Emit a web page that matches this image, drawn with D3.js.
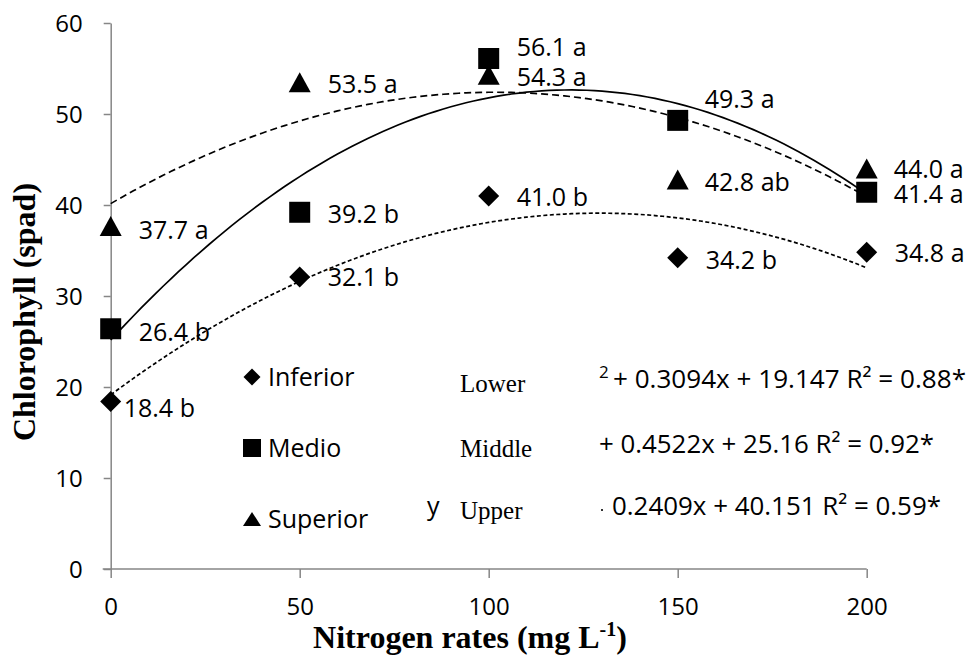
<!DOCTYPE html>
<html><head><meta charset="utf-8">
<script src="https://cdn.jsdelivr.net/npm/d3@7"></script>
<style>body{margin:0;background:#fff}</style>
</head><body><svg id="c" width="971" height="657"></svg>
<script>
// ---- data ----
const rates = [0, 50, 100, 150, 200];
const seriesNames = ["Inferior", "Medio", "Superior"];
const inferior = [18.4, 32.1, 41.0, 34.2, 34.8];
const medio = [26.4, 39.2, 56.1, 49.3, 41.4];
const superior = [37.7, 53.5, 54.3, 42.8, 44.0];
const inferiorLetters = ["b", "b", "b", "b", "a"];
const medioLetters = ["b", "b", "a", "a", "a"];
const superiorLetters = ["a", "a", "a", "ab", "a"];
const eqNames = ["Lower", "Middle", "Upper"];
const eqFragments = ["+ 0.3094x + 19.147 R² = 0.88*", "+ 0.4522x + 25.16 R² = 0.92*", "0.2409x + 40.151 R² = 0.59*"];
const yTicks = [0, 10, 20, 30, 40, 50, 60];
const xTicks = [0, 50, 100, 150, 200];
const xTitle = "Nitrogen rates (mg L";
const yTitle = "Chlorophyll (spad)";

// ---- layout (not data) ----
const labelOffsets = [
  [[13, 6], [28, 0], [28, 1], [28, 2], [28, 1]],
  [[28, 3], [28, 2], [28, -11], [27, -21], [27, 2]],
  [[28, 4], [28, 2], [28, 2], [27, 2], [27, 0]]
];
const SANS = "'Open Sans', sans-serif";
const SERIF = "'Liberation Serif', 'Times New Roman', serif";

const svg = d3.select("#c");
const x = d3.scaleLinear().domain([0, 200]).range([110.7, 866.7]);
const y = d3.scaleLinear().domain([0, 60]).range([569, 23]);

// marker paths
const shapes = {
  diamond: h => `M0,${-h}L${h},0L0,${h}L${-h},0Z`,
  square: s => `M${-s/2},${-s/2}h${s}v${s}h${-s}Z`,
  triangle: (w, hh) => `M0,${-hh/2}L${w/2},${hh/2}L${-w/2},${hh/2}Z`
};
const markerFor = [
  () => shapes.diamond(10.5),
  () => shapes.square(21),
  () => shapes.triangle(22, 20)
];
const legendMarker = [
  () => shapes.diamond(8.5),
  () => shapes.square(18),
  () => shapes.triangle(18, 14)
];

// least squares quadratic fit
function fitQuad(xs, ys) {
  const n = xs.length;
  let S = [0,0,0,0,0], T = [0,0,0];
  for (let i = 0; i < n; i++) {
    for (let k = 0; k <= 4; k++) S[k] += Math.pow(xs[i], k);
    for (let k = 0; k <= 2; k++) T[k] += ys[i] * Math.pow(xs[i], k);
  }
  const A = [[S[0], S[1], S[2], T[0]], [S[1], S[2], S[3], T[1]], [S[2], S[3], S[4], T[2]]];
  for (let i = 0; i < 3; i++) {
    for (let j = i + 1; j < 3; j++) {
      const f = A[j][i] / A[i][i];
      for (let k = i; k < 4; k++) A[j][k] -= f * A[i][k];
    }
  }
  const c = [0,0,0];
  for (let i = 2; i >= 0; i--) {
    let s = A[i][3];
    for (let k = i + 1; k < 3; k++) s -= A[i][k] * c[k];
    c[i] = s / A[i][i];
  }
  return c; // c0 + c1 x + c2 x^2
}

// axes
const yAxis = svg.append("g").attr("transform", `translate(${x(0)},0)`)
  .call(d3.axisLeft(y).tickValues(yTicks).tickSize(7).tickSizeOuter(0).tickPadding(21));
const xAxis = svg.append("g").attr("transform", `translate(0,${y(0)})`)
  .call(d3.axisBottom(x).tickValues(xTicks).tickSize(9).tickSizeOuter(0));
xAxis.select(".domain").attr("d", `M${x(0) - 8},0H${x(200)}`);
[yAxis, xAxis].forEach(g => {
  g.selectAll(".domain, .tick line").attr("stroke", "#868686").attr("stroke-width", 1.5);
  g.selectAll("text").attr("fill", "#000").style("font-family", SANS).style("font-size", "24px");
});
yAxis.selectAll("text").attr("dy", "0.36em");
xAxis.selectAll("text").attr("dy", null).attr("y", 46);

// titles
svg.append("text").attr("x", 470).attr("y", 648).attr("text-anchor", "middle")
  .style("font-family", SERIF).style("font-weight", "bold").style("font-size", "32px")
  .text(xTitle)
  .append("tspan").attr("dy", -12).style("font-size", "20px").text("-1")
  .select(function() { return this.parentNode; })
  .append("tspan").attr("dy", 12).style("font-size", "32px").text(")");
svg.append("text").attr("transform", `translate(35,312) rotate(-90)`).attr("text-anchor", "middle")
  .style("font-family", SERIF).style("font-weight", "bold").style("font-size", "32px")
  .text(yTitle);

const allSeries = [
  { vals: inferior, letters: inferiorLetters, dash: "4,2.5" },
  { vals: medio, letters: medioLetters, dash: null },
  { vals: superior, letters: superiorLetters, dash: "7,4" }
];

// data labels
allSeries.forEach((s, si) => {
  svg.append("g").selectAll("text").data(s.vals).join("text")
    .attr("x", (d, i) => x(rates[i]) + labelOffsets[si][i][0])
    .attr("y", (d, i) => y(d) + labelOffsets[si][i][1] + 0.36 * 25)
    .style("font-family", SANS).style("font-size", "25px").attr("fill", "#000")
    .text((d, i) => d.toFixed(1) + " " + s.letters[i]);
});

// trend lines
allSeries.forEach((s) => {
  const c = fitQuad(rates, s.vals);
  const pts = d3.range(0, 200.001, 2).map(v => [v, c[0] + c[1] * v + c[2] * v * v]);
  svg.append("path").datum(pts)
    .attr("d", d3.line().x(d => x(d[0])).y(d => y(d[1])))
    .attr("fill", "none").attr("stroke", "#000").attr("stroke-width", 1.7)
    .attr("stroke-dasharray", s.dash);
});

// markers
allSeries.forEach((s, si) => {
  svg.append("g").selectAll("path").data(s.vals).join("path")
    .attr("transform", (d, i) => `translate(${x(rates[i])},${y(d)})`)
    .attr("d", markerFor[si]()).attr("fill", "#000");
});

// legend
const legendY = [377, 448, 519];
seriesNames.forEach((n, i) => {
  svg.append("path").attr("transform", `translate(252,${legendY[i]})`)
    .attr("d", legendMarker[i]()).attr("fill", "#000");
  svg.append("text").attr("x", 268).attr("y", legendY[i] + 9)
    .style("font-family", SANS).style("font-size", "25px").text(n);
});

// equation area
const eqBase = [388, 453, 515];
const eqX = [613, 599, 612];
const eqW = [353, 335, 329];
eqNames.forEach((n, i) => {
  svg.append("text").attr("x", 460).attr("y", eqBase[i] + 4)
    .style("font-family", SERIF).style("font-size", "25px").text(n);
  svg.append("text").attr("x", eqX[i]).attr("y", eqBase[i])
    .attr("textLength", eqW[i]).attr("lengthAdjust", "spacingAndGlyphs")
    .style("font-family", SANS).style("font-size", "26px").text(eqFragments[i]);
});
svg.append("text").attr("x", 599).attr("y", 378).style("font-family", SANS).style("font-size", "17px").text("2");
svg.append("rect").attr("x", 601).attr("y", 509).attr("width", 2).attr("height", 2).attr("fill", "#333");
svg.append("text").attr("x", 427).attr("y", 515).style("font-family", SANS).style("font-size", "25px").text("y");
</script></body></html>
